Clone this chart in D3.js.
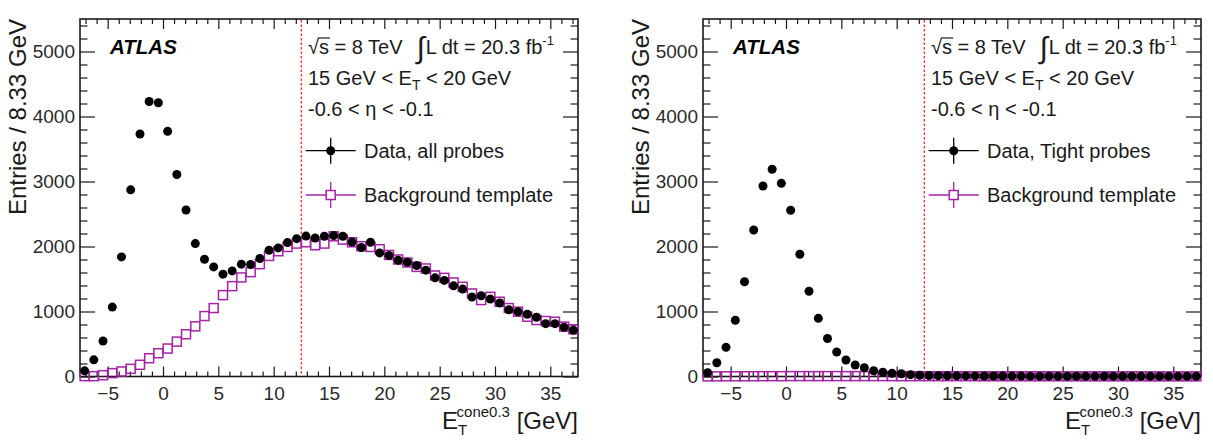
<!DOCTYPE html>
<html><head><meta charset="utf-8">
<script src="https://cdn.jsdelivr.net/npm/d3@7"></script>
<style>body{margin:0;background:#fff;} svg text{font-family:"Liberation Sans",Arial,Helvetica,sans-serif;}</style>
</head><body>
<svg id="c" width="1213" height="442"></svg>
<script>
// ---- data ----
const binCenters = [-7.08,-6.25,-5.42,-4.58,-3.75,-2.92,-2.08,-1.25,-0.42,0.42,1.25,2.08,2.92,3.75,4.58,5.42,6.25,7.08,7.92,8.75,9.58,10.42,11.25,12.08,12.92,13.75,14.58,15.42,16.25,17.08,17.92,18.75,19.58,20.42,21.25,22.08,22.92,23.75,24.58,25.42,26.25,27.08,27.92,28.75,29.58,30.42,31.25,32.08,32.92,33.75,34.58,35.42,36.25,37.08];
const allProbes = [87,256,547,1068,1840,2872,3731,4231,4211,3772,3107,2561,2045,1804,1686,1574,1625,1728,1723,1815,1942,1978,2060,2121,2160,2131,2157,2168,2157,2070,1984,2065,1901,1861,1789,1758,1708,1636,1518,1478,1395,1345,1222,1242,1191,1130,1027,997,957,911,813,813,757,711];
const bkgAll = [5,5,20,52,77,118,180,281,358,430,537,650,772,930,1053,1252,1390,1524,1605,1728,1855,1927,1993,2045,2065,2019,2045,2157,2106,2065,2004,1993,1958,1870,1800,1754,1686,1662,1554,1518,1447,1380,1278,1176,1226,1150,1053,997,920,869,854,843,767,727];
const tightProbes = [58,212,449,865,1458,2254,2931,3188,2972,2557,1880,1311,895,585,377,254,177,135,89,65,49,43,28,18,15,13,12,10,9,9,8,7,7,6,6,5,5,5,4,4,4,4,3,3,3,3,3,3,2,2,2,2,2,2];
const bkgTight = [2,2,3,3,4,4,5,5,5,6,6,6,6,6,6,6,6,6,6,6,5,5,5,5,5,5,5,5,5,4,4,4,4,4,4,4,4,4,3,3,3,3,3,3,3,3,3,3,2,2,2,2,2,2];
const xTicks = [-5,0,5,10,15,20,25,30,35];
const xMinorTicks = [-7,-6,-4,-3,-2,-1,1,2,3,4,6,7,8,9,11,12,13,14,16,17,18,19,21,22,23,24,26,27,28,29,31,32,33,34,36,37];
const yTicks = [0,1000,2000,3000,4000,5000];
const yMinorTicks = [200,400,600,800,1200,1400,1600,1800,2200,2400,2600,2800,3200,3400,3600,3800,4200,4400,4600,4800,5200,5400];
const xDomain = [-7.5, 37.5];
const yDomain = [0, 5500];
const cutValue = 12.5;
const dataLabels = ["Data, all probes", "Data, Tight probes"];
const bkgLabel = "Background template";
const yTitle = "Entries / 8.33 GeV";

const panels = [
  {ox: 0, data: allProbes, bkg: bkgAll, label: dataLabels[0]},
  {ox: 623, data: tightProbes, bkg: bkgTight, label: dataLabels[1]}
];

const INK = "#1a1a1a", MAG = "#a622a6", RED = "#ff2a2a";
const svg = d3.select("#c");

function styleAxis(g, withText) {
  g.attr("font-size", null).attr("font-family", null);
  g.select(".domain").remove();
  g.selectAll(".tick line").attr("stroke", INK).attr("stroke-width", 1.2);
  if (withText) g.selectAll(".tick text").attr("font-size", 19).attr("fill", "#2a2a2a");
}

panels.forEach(p => {
  const L = 80 + p.ox, R = L + 498, T = 19, B = 376.5;
  const x = d3.scaleLinear().domain(xDomain).range([L, R]);
  const y = d3.scaleLinear().domain(yDomain).range([B, T]);
  const g = svg.append("g");

  // axes (ticks inward)
  g.append("g").attr("transform", `translate(0,${B})`)
    .call(d3.axisBottom(x).tickValues(xMinorTicks).tickSize(-5).tickFormat("")).call(s => styleAxis(s, false));
  g.append("g").attr("transform", `translate(0,${B})`)
    .call(d3.axisBottom(x).tickValues(xTicks).tickSize(-10).tickPadding(10).tickFormat(d3.format("d"))).call(s => styleAxis(s, true));
  g.append("g").attr("transform", `translate(0,${T})`)
    .call(d3.axisTop(x).tickValues(xMinorTicks).tickSize(-5).tickFormat("")).call(s => styleAxis(s, false));
  g.append("g").attr("transform", `translate(0,${T})`)
    .call(d3.axisTop(x).tickValues(xTicks).tickSize(-10).tickFormat("")).call(s => styleAxis(s, false));
  g.append("g").attr("transform", `translate(${L},0)`)
    .call(d3.axisLeft(y).tickValues(yMinorTicks).tickSize(-7.5).tickFormat("")).call(s => styleAxis(s, false));
  g.append("g").attr("transform", `translate(${L},0)`)
    .call(d3.axisLeft(y).tickValues(yTicks).tickSize(-15).tickPadding(5).tickFormat(d3.format("d"))).call(s => styleAxis(s, true));
  g.append("g").attr("transform", `translate(${R},0)`)
    .call(d3.axisRight(y).tickValues(yMinorTicks).tickSize(-7.5).tickFormat("")).call(s => styleAxis(s, false));
  g.append("g").attr("transform", `translate(${R},0)`)
    .call(d3.axisRight(y).tickValues(yTicks).tickSize(-15).tickFormat("")).call(s => styleAxis(s, false));

  // frame
  g.append("rect").attr("x", L).attr("y", T).attr("width", R - L).attr("height", B - T)
    .attr("fill", "none").attr("stroke", INK).attr("stroke-width", 1.6);

  // cut line
  g.append("line").attr("x1", x(cutValue)).attr("x2", x(cutValue)).attr("y1", T + 1).attr("y2", B - 1)
    .attr("stroke", RED).attr("stroke-width", 1.3).attr("stroke-dasharray", "2.5,2");

  // background template (open squares)
  g.append("g").selectAll("rect").data(p.bkg).join("rect")
    .attr("x", (d, i) => x(binCenters[i]) - 4.5).attr("y", d => y(d) - 4.5)
    .attr("width", 9).attr("height", 9).attr("fill", "none").attr("stroke", MAG).attr("stroke-width", 1.5);

  // data (filled circles)
  g.append("g").selectAll("circle").data(p.data).join("circle")
    .attr("cx", (d, i) => x(binCenters[i])).attr("cy", d => y(d)).attr("r", 4.5).attr("fill", "#000");

  // ATLAS label
  g.append("text").attr("x", L + 30).attr("y", 53.5).attr("font-size", 20.5)
    .attr("font-weight", "bold").attr("font-style", "italic").attr("fill", "#000").text("ATLAS");

  // info text
  const tx = L + 228;
  const t1 = g.append("text").attr("x", tx).attr("y", 53.5).attr("font-size", 20).attr("fill", INK);
  t1.append("tspan").text("\u221A");
  t1.append("tspan").text("s");
  t1.append("tspan").text(" = 8 TeV");
  t1.append("tspan").attr("font-size", 30).attr("dy", 4).attr("dx", 14).text("\u222B");
  t1.append("tspan").attr("dy", -4).attr("dx", 1).text("L dt = 20.3 fb");
  t1.append("tspan").attr("font-size", 13).attr("dy", -9).text("-1");
  // overline on s
  const n = t1.node();
  const s0 = n.getStartPositionOfChar(1), s1 = n.getEndPositionOfChar(1);
  g.append("line").attr("x1", s0.x - 1).attr("x2", s1.x + 1).attr("y1", 38).attr("y2", 38)
    .attr("stroke", INK).attr("stroke-width", 1.2);

  const t2 = g.append("text").attr("x", tx).attr("y", 84.5).attr("font-size", 20).attr("fill", INK);
  t2.append("tspan").text("15 GeV < E");
  t2.append("tspan").attr("font-size", 14).attr("dy", 5).text("T");
  t2.append("tspan").attr("dy", -5).text(" < 20 GeV");

  g.append("text").attr("x", tx).attr("y", 115.5).attr("font-size", 20).attr("fill", INK)
    .text("-0.6 < \u03B7 < -0.1");

  // legend
  const lx = L + 250.7;
  const ly = [150.7, 195];
  const leg = g.append("g");
  leg.append("line").attr("x1", lx - 25).attr("x2", lx + 25).attr("y1", ly[0]).attr("y2", ly[0]).attr("stroke", "#000").attr("stroke-width", 1.3);
  leg.append("line").attr("x1", lx).attr("x2", lx).attr("y1", ly[0] - 13).attr("y2", ly[0] + 13).attr("stroke", "#000").attr("stroke-width", 1.3);
  leg.append("circle").attr("cx", lx).attr("cy", ly[0]).attr("r", 4.5).attr("fill", "#000");
  leg.append("line").attr("x1", lx - 25).attr("x2", lx + 25).attr("y1", ly[1]).attr("y2", ly[1]).attr("stroke", MAG).attr("stroke-width", 1.3);
  leg.append("line").attr("x1", lx).attr("x2", lx).attr("y1", ly[1] - 13).attr("y2", ly[1] + 13).attr("stroke", MAG).attr("stroke-width", 1.3);
  leg.append("rect").attr("x", lx - 4.5).attr("y", ly[1] - 4.5).attr("width", 9).attr("height", 9).attr("fill", "#fff").attr("stroke", MAG).attr("stroke-width", 1.5);
  leg.append("text").attr("x", L + 284).attr("y", ly[0] + 7).attr("font-size", 20).attr("fill", INK).text(p.label);
  leg.append("text").attr("x", L + 284).attr("y", ly[1] + 7).attr("font-size", 20).attr("fill", INK).text(bkgLabel);

  // axis titles
  g.append("text").attr("transform", `translate(${p.ox + 26},${T}) rotate(-90)`)
    .attr("text-anchor", "end").attr("font-size", 24).attr("fill", INK).text(yTitle);
  const xt = g.append("text").attr("x", R).attr("y", 429).attr("text-anchor", "end").attr("font-size", 24).attr("fill", INK);
  xt.append("tspan").text("E");
  xt.append("tspan").attr("font-size", 15).attr("dy", 6).text("T");
  xt.append("tspan").attr("font-size", 15).attr("dy", -18).attr("dx", -9).text("cone0.3");
  xt.append("tspan").attr("dy", 12).text(" [GeV]");
});
</script>
</body></html>
